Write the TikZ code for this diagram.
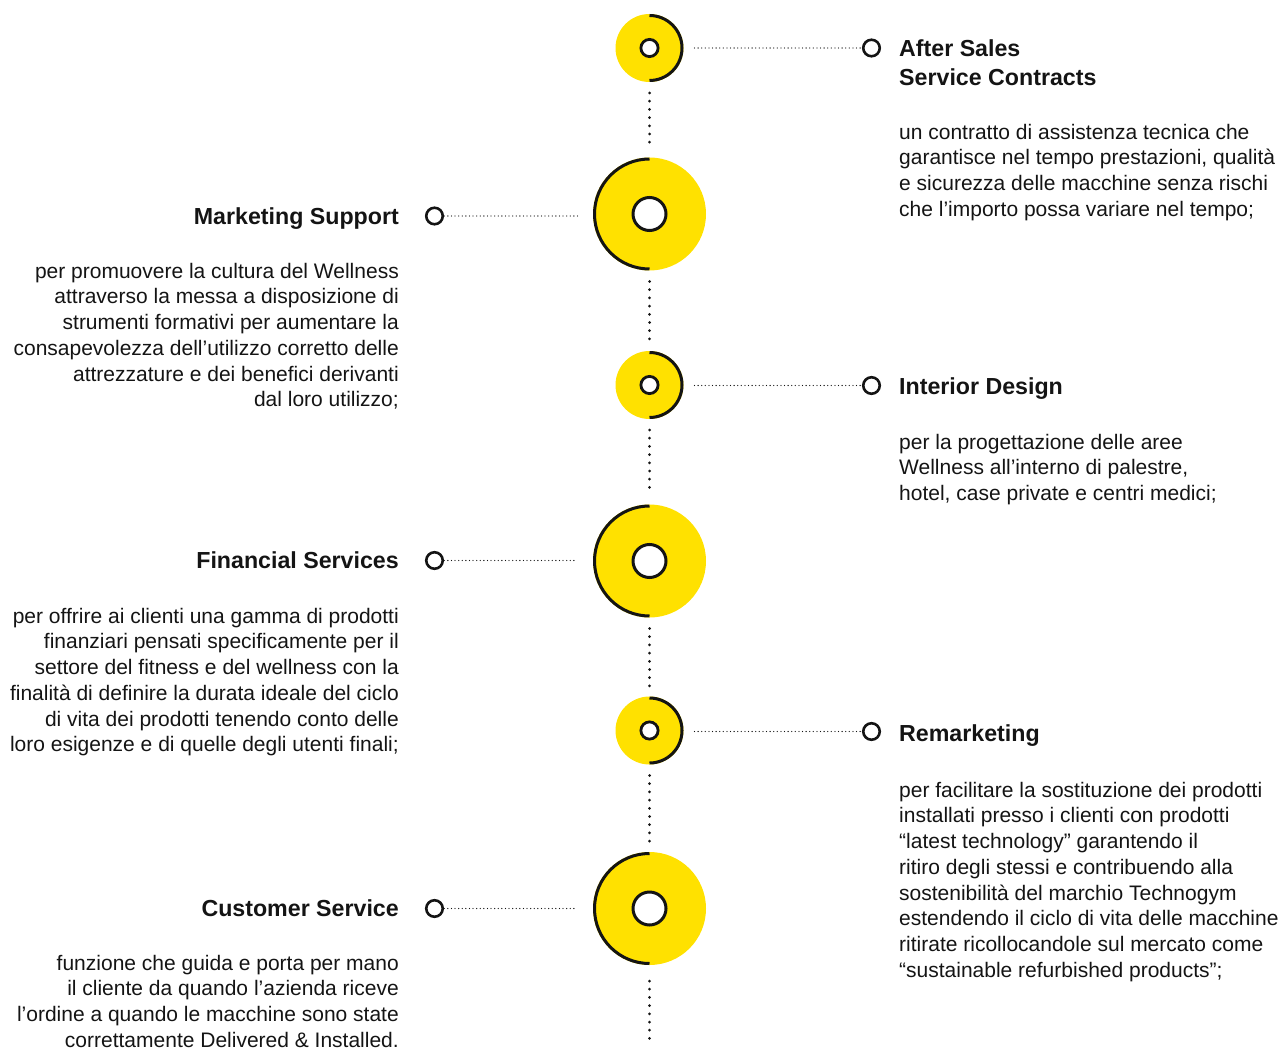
\documentclass[tikz,border=0pt]{standalone}
\usepackage{fontspec}
\setmainfont{Liberation Sans}
\definecolor{tgyellow}{HTML}{FFE100}
\definecolor{ink}{HTML}{141414}
\tikzset{
  x=1pt,y=1pt,
  discS/.style={circle, fill=tgyellow, minimum size=68pt, inner sep=0pt, outer sep=0pt},
  discL/.style={circle, fill=tgyellow, minimum size=113pt, inner sep=0pt, outer sep=0pt},
  holeS/.style={circle, draw=ink, line width=2.8pt, fill=white, minimum size=17.2pt, inner sep=0pt, outer sep=0pt},
  holeL/.style={circle, draw=ink, line width=3pt, fill=white, minimum size=33pt, inner sep=0pt, outer sep=0pt},
  rim/.style={draw=ink, line width=3pt},
  marker/.style={circle, draw=ink, line width=2.6pt, fill=white, minimum size=16.5pt, inner sep=0pt, outer sep=0pt},
  vdots/.style={draw=ink, line width=3pt, line cap=round, dash pattern=on 0pt off 8.2pt},
  hdots/.style={draw=ink, line width=1.3pt, line cap=round, dash pattern=on 0pt off 3.6pt},
  head/.style={font={\fontsize{23.2}{29}\selectfont\bfseries}, text=ink, inner sep=0pt},
  body/.style={font={\fontsize{21}{25.7}\selectfont}, text=ink, inner sep=0pt},
}
\newcommand{\fl}{\rule{0pt}{22pt}}
\begin{document}
\begin{tikzpicture}
\useasboundingbox (0,0) rectangle (1284,-1048);

% discs
\node[discS] (c1) at (649.5,-48) {};
\node[discL] (c2) at (649.5,-214) {};
\node[discS] (c3) at (649.5,-385) {};
\node[discL] (c4) at (649.5,-561) {};
\node[discS] (c5) at (649.5,-730.5) {};
\node[discL] (c6) at (649.5,-908.5) {};
\coordinate (tail) at (649.5,-1039);

% rims
\draw[rim] (c1.center) ++(0,32.5) arc[start angle=90, end angle=-90, radius=32.5];
\draw[rim] (c3.center) ++(0,32.5) arc[start angle=90, end angle=-90, radius=32.5];
\draw[rim] (c5.center) ++(0,32.5) arc[start angle=90, end angle=-90, radius=32.5];
\draw[rim] (c2.center) ++(0,55) arc[start angle=90, end angle=270, radius=55];
\draw[rim] (c4.center) ++(0,55) arc[start angle=90, end angle=270, radius=55];
\draw[rim] (c6.center) ++(0,55) arc[start angle=90, end angle=270, radius=55];

% holes
\node[holeS] (h1) at (c1.center) {};
\node[holeL] (h2) at (c2.center) {};
\node[holeS] (h3) at (c3.center) {};
\node[holeL] (h4) at (c4.center) {};
\node[holeS] (h5) at (c5.center) {};
\node[holeL] (h6) at (c6.center) {};

% vertical dotted connectors
\draw[vdots, shorten <=11pt, shorten >=10pt] (c1.south) -- (c2.north);
\draw[vdots, shorten <=11pt, shorten >=10pt] (c2.south) -- (c3.north);
\draw[vdots, shorten <=11pt, shorten >=10pt] (c3.south) -- (c4.north);
\draw[vdots, shorten <=11pt, shorten >=10pt] (c4.south) -- (c5.north);
\draw[vdots, shorten <=11pt, shorten >=10pt] (c5.south) -- (c6.north);
\draw[vdots, shorten <=16pt] (c6.south) -- (tail);

% markers
\node[marker] (m1) at (871.5,-48) {};
\node[marker] (m2) at (434.5,-216) {};
\node[marker] (m3) at (871.5,-385.5) {};
\node[marker] (m4) at (434.5,-560.5) {};
\node[marker] (m5) at (871.5,-731.5) {};
\node[marker] (m6) at (434.5,-908.5) {};

% horizontal dotted connectors
\draw[hdots, shorten <=11pt, shorten >=3pt] (c1.east) -- (m1.west);
\draw[hdots, shorten <=11pt, shorten >=3pt] (c3.east |- m3.west) -- (m3.west);
\draw[hdots, shorten <=11pt, shorten >=3pt] (c5.east |- m5.west) -- (m5.west);
\draw[hdots, shorten <=1.5pt, shorten >=15pt] (m2.east) -- (m2.east -| c2.west);
\draw[hdots, shorten <=1.5pt, shorten >=17pt] (m4.east) -- (m4.east -| c4.west);
\draw[hdots, shorten <=1.5pt, shorten >=17pt] (m6.east) -- (m6.east -| c6.west);

% right column texts
\node[head, anchor=north west, align=left] (t1) at (899,-34) {\fl After Sales\\Service Contracts};
\node[body, anchor=north west, align=left] (b1) at (899,-117) {\fl un contratto di assistenza tecnica che\\garantisce nel tempo prestazioni, qualità\\e sicurezza delle macchine senza rischi\\che l’importo possa variare nel tempo;};

\node[head, anchor=north west, align=left] (t3) at (899,-372) {\fl Interior Design};
\node[body, anchor=north west, align=left] (b3) at (899,-427) {\fl per la progettazione delle aree\\Wellness all’interno di palestre,\\hotel, case private e centri medici;};

\node[head, anchor=north west, align=left] (t5) at (899,-719) {\fl Remarketing};
\node[body, anchor=north west, align=left] (b5) at (899,-775) {\fl per facilitare la sostituzione dei prodotti\\installati presso i clienti con prodotti\\“latest technology” garantendo il\\ritiro degli stessi e contribuendo alla\\sostenibilità del marchio Technogym\\estendendo il ciclo di vita delle macchine\\ritirate ricollocandole sul mercato come\\“sustainable refurbished products”;};

% left column texts
\node[head, anchor=north east, align=right] (t2) at (399,-202) {\fl Marketing Support};
\node[body, anchor=north east, align=right] (b2) at (399,-256) {\fl per promuovere la cultura del Wellness\\attraverso la messa a disposizione di\\strumenti formativi per aumentare la\\consapevolezza dell’utilizzo corretto delle\\attrezzature e dei benefici derivanti\\dal loro utilizzo;};

\node[head, anchor=north east, align=right] (t4) at (399,-546) {\fl Financial Services};
\node[body, anchor=north east, align=right] (b4) at (399,-601) {\fl per offrire ai clienti una gamma di prodotti\\finanziari pensati specificamente per il\\settore del fitness e del wellness con la\\finalità di definire la durata ideale del ciclo\\di vita dei prodotti tenendo conto delle\\loro esigenze e di quelle degli utenti finali;};

\node[head, anchor=north east, align=right] (t6) at (399,-894) {\fl Customer Service};
\node[body, anchor=north east, align=right] (b6) at (399,-948) {\fl funzione che guida e porta per mano\\il cliente da quando l’azienda riceve\\l’ordine a quando le macchine sono state\\correttamente Delivered \& Installed.};
\end{tikzpicture}
\end{document}
